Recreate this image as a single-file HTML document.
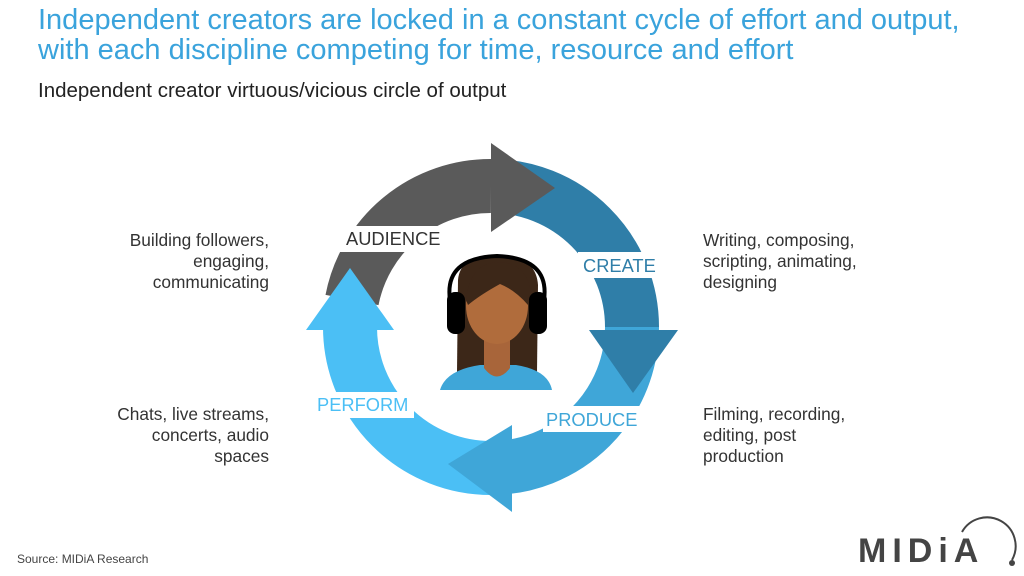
<!DOCTYPE html>
<html><head><style>
body{margin:0;width:1024px;height:576px;background:#fff;font-family:"Liberation Sans",sans-serif;position:relative;overflow:hidden}
.t{position:absolute;white-space:nowrap}
</style></head><body>
<div class="t" style="left:38px;top:5px;font-size:29px;line-height:30px;color:#3aa3dc">Independent creators are locked in a constant cycle of effort and output,<br>with each discipline competing for time, resource and effort</div>
<div class="t" style="left:38px;top:79px;font-size:20.5px;color:#222">Independent creator virtuous/vicious circle of output</div>
<div class="t" style="right:755px;top:230px;font-size:17.3px;line-height:21px;color:#333;text-align:right">Building followers,<br>engaging,<br>communicating</div>
<div class="t" style="right:755px;top:404px;font-size:17.3px;line-height:21px;color:#333;text-align:right">Chats, live streams,<br>concerts, audio<br>spaces</div>
<div class="t" style="left:703px;top:230px;font-size:17.3px;line-height:21px;color:#333">Writing, composing,<br>scripting, animating,<br>designing</div>
<div class="t" style="left:703px;top:404px;font-size:17.3px;line-height:21px;color:#333">Filming, recording,<br>editing, post<br>production</div>
<div class="t" style="left:17px;top:552px;font-size:12px;color:#444">Source: MIDiA Research</div>
<svg width="1024" height="576" style="position:absolute;left:0;top:0">
<g fill="none" stroke-width="54">
<path d="M352 300 A141 141 0 0 1 491 186" stroke="#5a5a5a"/>
<path d="M491 186 A141 141 0 0 1 632 327" stroke="#2f7ea8"/>
<path d="M632 327 A141 141 0 0 1 491 468" stroke="#3fa6d8"/>
<path d="M491 468 A141 141 0 0 1 350 327" stroke="#4bbff5"/>
</g>
<polygon points="491,143 491,232 555,188" fill="#5a5a5a"/>
<polygon points="589,330 678,330 633,393" fill="#2f7ea8"/>
<polygon points="512,425 512,512 448,464" fill="#3fa6d8"/>
<polygon points="306,330 394,330 350,268" fill="#4bbff5"/>
<rect x="340" y="226" width="108" height="26" fill="#fff"/>
<rect x="578" y="252" width="84" height="26" fill="#fff"/>
<rect x="543" y="406" width="102" height="26" fill="#fff"/>
<rect x="314" y="392" width="100" height="26" fill="#fff"/>
<g font-family="Liberation Sans" font-size="18.3">
<text x="346" y="245" fill="#333">AUDIENCE</text>
<text x="583" y="272" fill="#2f7ea8">CREATE</text>
<text x="546" y="426" fill="#3fa6d8">PRODUCE</text>
<text x="317" y="411" fill="#4bbff5">PERFORM</text>
</g>
<path d="M458 280 Q460 255 497 255 Q536 255 538 285 L537 372 L457 372 Z" fill="#3c2718"/>
<path d="M440 390 Q446 370 480 365 L516 365 Q548 370 552 390 Z" fill="#3fa6d8"/>
<path d="M484 330 L484 368 Q497 385 510 368 L510 330 Z" fill="#a8653a"/>
<ellipse cx="497" cy="306" rx="31" ry="38" fill="#b06c3c"/>
<path d="M466 300 Q470 262 500 262 Q530 264 532 300 L528 305 Q515 290 500 284 Q480 295 468 305 Z" fill="#3c2718"/>
<path d="M450 300 Q444 258 497 256 Q550 258 544 300" fill="none" stroke="#000" stroke-width="4"/>
<rect x="447" y="292" width="18" height="42" rx="8" fill="#000"/>
<rect x="529" y="292" width="18" height="42" rx="8" fill="#000"/>
<g font-family="Liberation Sans" font-size="34" fill="#444" font-weight="bold">
<text x="858" y="562" letter-spacing="6">MIDiA</text>
</g>
<path d="M962 532 A28 28 0 0 1 1012 560" fill="none" stroke="#444" stroke-width="2"/>
<circle cx="1012" cy="563" r="3" fill="#444"/>
</svg>
</body></html>
